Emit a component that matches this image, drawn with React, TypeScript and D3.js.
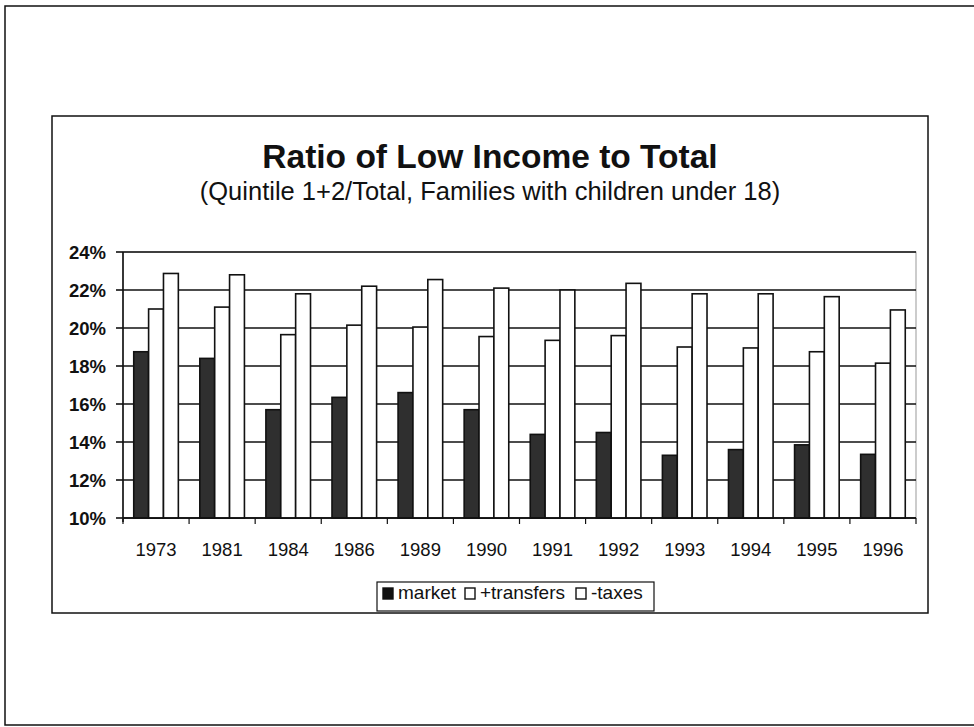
import React from "react";
import * as d3 from "d3";

const years = ["1973", "1981", "1984", "1986", "1989", "1990", "1991", "1992", "1993", "1994", "1995", "1996"];
const seriesNames = ["market", "+transfers", "-taxes"];
const market = [18.75, 18.4, 15.7, 16.35, 16.6, 15.7, 14.4, 14.5, 13.3, 13.6, 13.85, 13.35];
const transfers = [21.0, 21.1, 19.65, 20.15, 20.05, 19.55, 19.35, 19.6, 19.0, 18.95, 18.75, 18.15];
const taxes = [22.87, 22.8, 21.8, 22.2, 22.55, 22.1, 22.0, 22.35, 21.8, 21.8, 21.65, 20.95];
const yTicks = [10, 12, 14, 16, 18, 20, 22, 24];

const seriesValues = [market, transfers, taxes];
const seriesFill = ["#2f2f2f", "#ffffff", "#ffffff"];

const font = "'Liberation Sans', Arial, sans-serif";

const App = () => {
  const width = 974;
  const height = 727;

  // plot area of the chart
  const plot = { left: 123, right: 916, top: 252, bottom: 518 };

  const x = d3
    .scaleBand<string>()
    .domain(years)
    .range([plot.left, plot.right])
    .paddingInner(0.325)
    .paddingOuter(0.1625);

  const xSeries = d3
    .scaleBand<string>()
    .domain(seriesNames)
    .range([0, x.bandwidth()]);

  const y = d3.scaleLinear().domain([10, 24]).range([plot.bottom, plot.top]);

  const step = x.step();

  // legend entries: swatch x, text x
  const legendItems = [
    { name: seriesNames[0], sx: 383, tx: 398, fill: "#111" },
    { name: seriesNames[1], sx: 465, tx: 480, fill: "#fff" },
    { name: seriesNames[2], sx: 576, tx: 591, fill: "#fff" },
  ];

  return (
    <svg
      width={width}
      height={height}
      style={{ position: "absolute", left: 0, top: 0, background: "#fff" }}
    >
      {/* outer page frame */}
      <rect x={5} y={6} width={990} height={719} fill="none" stroke="#111" strokeWidth={1.5} />

      {/* chart box */}
      <rect x={52} y={116} width={876} height={497} fill="#fff" stroke="#111" strokeWidth={1.5} />

      {/* title */}
      <text
        x={490}
        y={168}
        textAnchor="middle"
        fontFamily={font}
        fontWeight="bold"
        fontSize={33.5}
        fill="#111"
      >
        Ratio of Low Income to Total
      </text>
      <text x={490} y={200} textAnchor="middle" fontFamily={font} fontSize={25.5} fill="#111">
        (Quintile 1+2/Total, Families with children under 18)
      </text>

      {/* plot area border */}
      <rect
        x={plot.left}
        y={plot.top}
        width={plot.right - plot.left}
        height={plot.bottom - plot.top}
        fill="none"
        stroke="#999"
        strokeWidth={1}
      />

      {/* gridlines */}
      {yTicks.map((t) => (
        <line
          key={"g" + t}
          x1={plot.left}
          x2={plot.right}
          y1={y(t)}
          y2={y(t)}
          stroke="#111"
          strokeWidth={1.6}
        />
      ))}

      {/* bars */}
      {years.map((yr, i) => (
        <g key={yr} transform={`translate(${x(yr)},0)`}>
          {seriesNames.map((s, j) => (
            <rect
              key={s}
              x={xSeries(s)}
              y={y(seriesValues[j][i])}
              width={xSeries.bandwidth()}
              height={plot.bottom - y(seriesValues[j][i])}
              fill={seriesFill[j]}
              stroke="#111"
              strokeWidth={1.6}
            />
          ))}
        </g>
      ))}

      {/* y axis */}
      <line x1={plot.left} x2={plot.left} y1={plot.top} y2={plot.bottom + 4} stroke="#111" strokeWidth={1.6} />
      {yTicks.map((t) => (
        <g key={"y" + t}>
          <line x1={plot.left - 7} x2={plot.left} y1={y(t)} y2={y(t)} stroke="#111" strokeWidth={1.6} />
          <text
            x={106}
            y={y(t)}
            dy="0.36em"
            textAnchor="end"
            fontFamily={font}
            fontWeight="bold"
            fontSize={18.5}
            fill="#111"
          >
            {t}%
          </text>
        </g>
      ))}

      {/* x axis */}
      <line x1={plot.left} x2={plot.right} y1={plot.bottom} y2={plot.bottom} stroke="#111" strokeWidth={1.6} />
      {d3.range(years.length + 1).map((k) => (
        <line
          key={"xt" + k}
          x1={plot.left + k * step}
          x2={plot.left + k * step}
          y1={plot.bottom}
          y2={plot.bottom + 6}
          stroke="#111"
          strokeWidth={1.2}
        />
      ))}
      {years.map((yr) => (
        <text
          key={"xl" + yr}
          x={(x(yr) as number) + x.bandwidth() / 2}
          y={556}
          textAnchor="middle"
          fontFamily={font}
          fontSize={18.5}
          fill="#111"
        >
          {yr}
        </text>
      ))}

      {/* legend */}
      <g>
        <rect x={377} y={582} width={277} height={29} fill="#fff" stroke="#111" strokeWidth={1.2} />
        {legendItems.map((d) => (
          <g key={d.name}>
            <rect x={d.sx} y={588} width={10} height={11} fill={d.fill} stroke="#111" strokeWidth={1.4} />
            <text x={d.tx} y={599} fontFamily={font} fontSize={19} fill="#111">
              {d.name}
            </text>
          </g>
        ))}
      </g>
    </svg>
  );
};

export default App;
